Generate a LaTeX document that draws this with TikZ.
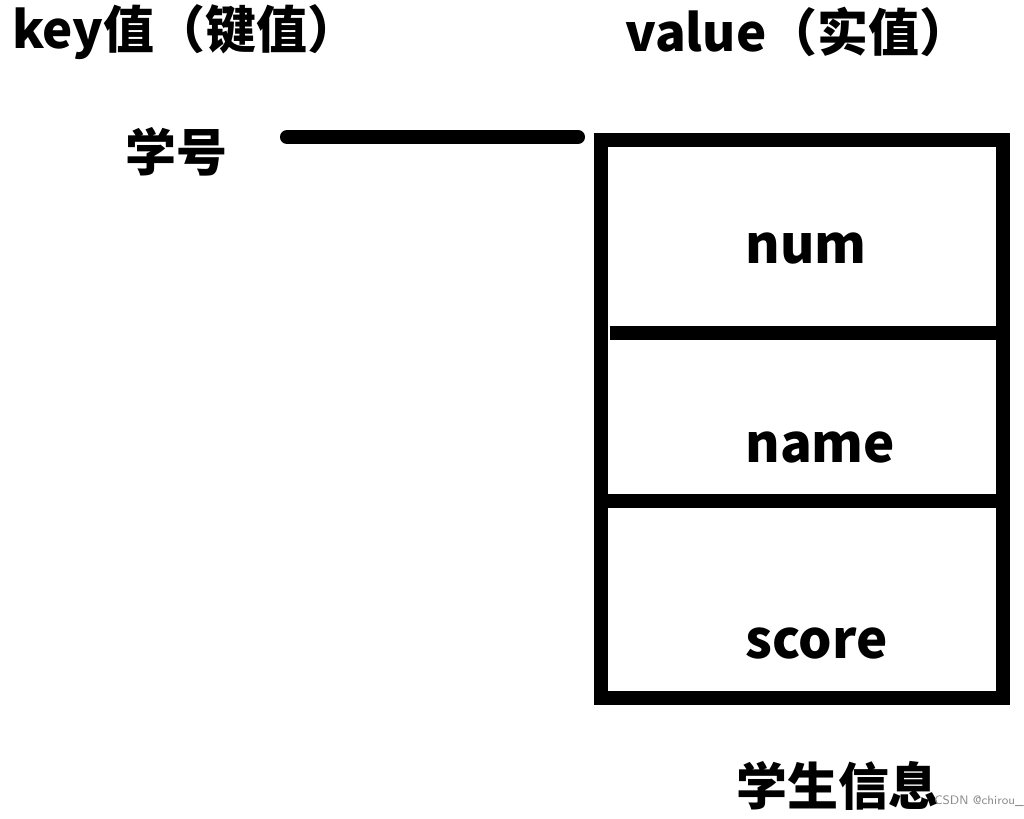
\documentclass[tikz,border=0pt]{standalone}
\usepackage{fontspec}
\usepackage{tikz}
\newfontfamily\cjk{Noto Sans CJK SC}
\usetikzlibrary{calc}

\tikzset{
  bigtext/.style={font=\cjk\bfseries\fontsize{29}{34}\selectfont, inner sep=0pt},
  fieldtext/.style={font=\cjk\bfseries\fontsize{30}{36}\selectfont, inner sep=0pt, anchor=base west},
  heavy/.style={line width=8pt},
}

\begin{document}
\begin{tikzpicture}[x=0.02cm, y=-0.02cm]
  \useasboundingbox (0, 0) rectangle (1024, 818);
  % headings
  \node[bigtext, anchor=west] (keyhead) at (12, 32) {key值（键值）};
  \node[bigtext, anchor=west] (valhead) at (625, 32) {value（实值）};
  \node[bigtext] (xuehao) at (176, 152) {学号};

  % the value box with its three fields
  \node[draw, heavy, minimum width=402*0.02cm, minimum height=558*0.02cm, anchor=north west, inner sep=0pt, outer sep=0pt] (record) at (601, 140) {};
  \draw[heavy] (610, 333) -- (record.east |- 0, 333);
  \draw[heavy] (record.west |- 0, 501) -- (record.east |- 0, 501);
  \node[fieldtext] (num) at (745, 263) {num};
  \node[fieldtext] (name) at (745, 462) {name};
  \node[fieldtext] (score) at (745, 658) {score};
  \node[bigtext] (info) at (838, 786) {学生信息};

  % key line
  \coordinate (keystart) at (287, 137);
  \coordinate (keyend) at (578, 137);
  \draw[heavy, line cap=round] (keystart) -- (keyend);

  \node[font=\sffamily\fontsize{7}{8}\selectfont, text=black!45, anchor=west, inner sep=0pt] (mark) at (934, 801) {CSDN @chirou\_};
\end{tikzpicture}
\end{document}
